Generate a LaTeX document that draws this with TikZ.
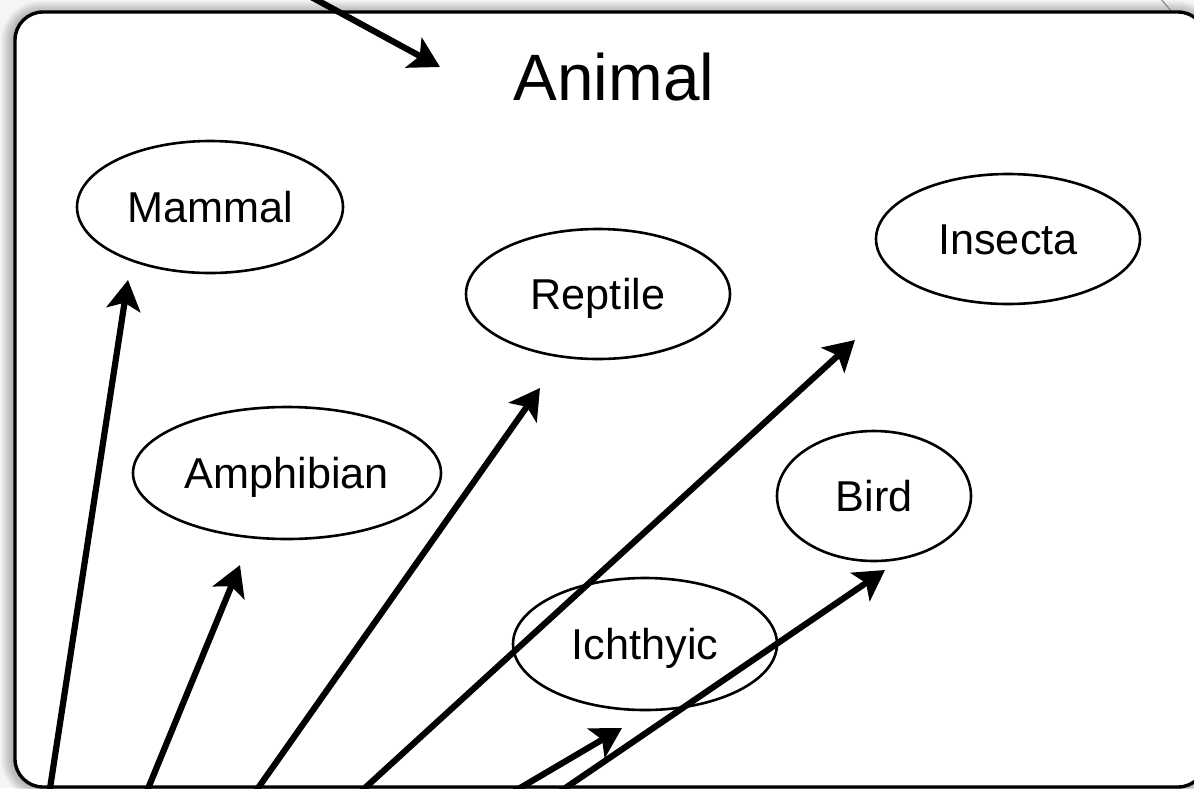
\documentclass[tikz,border=0pt]{standalone}
\usepackage{fontspec}
\setmainfont{Liberation Sans}
\usetikzlibrary{arrows.meta,shapes.geometric}

\tikzset{
  kind/.style={ellipse,draw,line width=1.3pt,inner sep=0pt,minimum width=132pt,minimum height=65pt,
    text height=15.5pt,text depth=0pt,font=\fontsize{21.6}{26}\selectfont},
  link/.style={line width=3.1pt,-{Stealth[length=15pt,width=17pt,inset=3.5pt]}}
}

\begin{document}
\begin{tikzpicture}[x=0.5pt,y=-0.5pt]
\useasboundingbox (0,0) rectangle (1194,788);
\clip (0,0) rectangle (1194,788);
\fill[gray!8] (0,0) rectangle (1194,788);
% soft shadow round the frame
\foreach \s in {1,...,12}{
  \fill[black,opacity=0.022,rounded corners=14pt+\s*0.5pt] (13-\s,13-\s) rectangle (1206+\s,787+\s);
}
\draw[gray,line width=0.5pt] (1160,-2) -- (1173,13);
\draw[fill=white,line width=1.7pt,rounded corners=14pt] (15,12) rectangle (1206,787);
\node[anchor=base,font=\fontsize{32.8}{38}\selectfont] (animal) at (614,100){Animal};

\node[kind,minimum width=133pt,minimum height=66pt] (mammal) at (210,207){Mammal};
\node[kind] (reptile) at (598,294){Reptile};
\node[kind] (insecta) at (1008,239){Insecta};
\node[kind,minimum width=154pt,minimum height=66pt] (amphibian) at (287,473){Amphibian};
\node[kind,minimum width=97pt] (bird) at (874,496){Bird};
\node[kind,minimum height=66pt] (ichthyic) at (645,644){Ichthyic};

% arrows come in from outside the frame
\coordinate (topsrc) at (280,-20);
\coordinate (toptip) at (440,67);
\coordinate (mamsrc) at (47,808);
\coordinate (mamtip) at (128,280);
\coordinate (ampsrc) at (140,808);
\coordinate (amptip) at (240,565);
\coordinate (repsrc) at (244,808);
\coordinate (reptip) at (540,388);
\coordinate (inssrc) at (343,808);
\coordinate (institp) at (855,340);
\coordinate (ichsrc) at (486,808);
\coordinate (ichtip) at (622,728);
\coordinate (birsrc) at (536,808);
\coordinate (birtip) at (885,570);

\draw[link] (topsrc) -- (toptip);
\draw[link] (mamsrc) -- (mamtip);
\draw[link] (ampsrc) -- (amptip);
\draw[link] (repsrc) -- (reptip);
\draw[link] (inssrc) -- (institp);
\draw[link] (ichsrc) -- (ichtip);
\draw[link] (birsrc) -- (birtip);
\end{tikzpicture}
\end{document}
